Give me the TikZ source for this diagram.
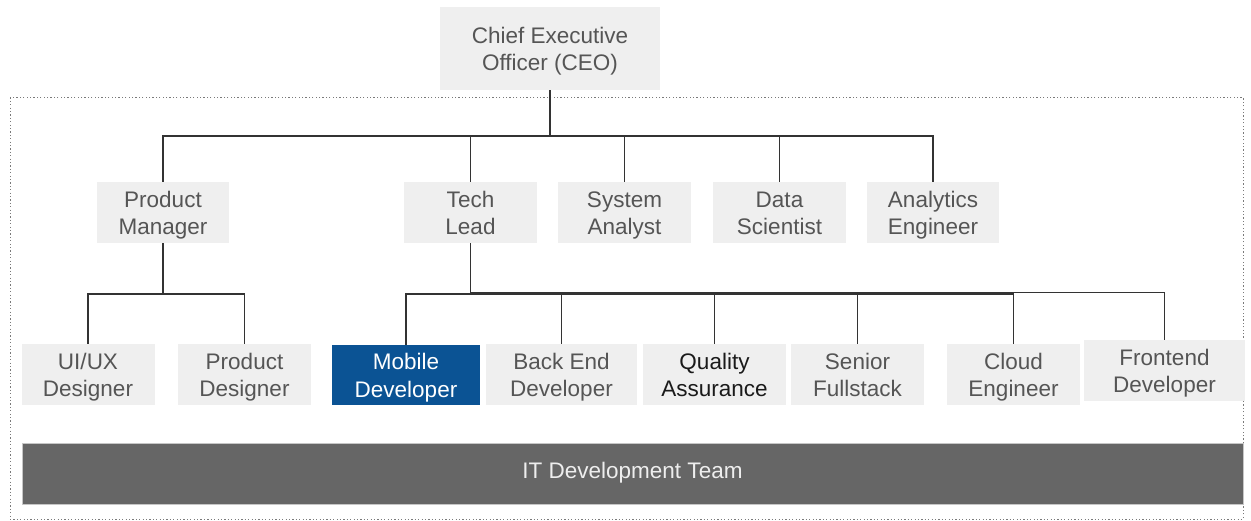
\documentclass[tikz,border=0pt]{standalone}
\usepackage{fontspec}
\setmainfont{Liberation Sans}
\definecolor{boxfill}{HTML}{EFEFEF}
\definecolor{boxtext}{HTML}{555555}
\definecolor{qatext}{HTML}{1A1A1A}
\definecolor{mobfill}{HTML}{0B5394}
\definecolor{barfill}{HTML}{666666}
\definecolor{bartext}{HTML}{EEEEEE}
\definecolor{linecol}{HTML}{333333}
\definecolor{dashcol}{HTML}{7A7A7A}
\newcommand{\rs}{\rule[-5pt]{0pt}{27pt}}
\begin{document}
\begin{tikzpicture}[x=1pt,y=-1pt,
  role/.style={fill=boxfill, draw=none, inner sep=0pt, align=center,
    text=boxtext, font=\fontsize{22.5}{27.5}\selectfont},
  conn/.style={draw=linecol, line width=1.3pt},
  frame/.style={draw=dashcol, line width=1pt, dash pattern=on 1.2pt off 2.2pt}]
\useasboundingbox (0,0) rectangle (1251,521);
\fill[white] (0,0) rectangle (1251,521);
% dashed team frame
\draw[frame] (10,97.5) rectangle (1243,519);
% top
\node[role, minimum width=220pt, minimum height=83pt] (ceo) at (550,48.5) {\rs Chief Executive\\\rs Officer (CEO)};
% second row
\node[role, minimum width=132pt, minimum height=61pt] (pm) at (163,212.5) {\rs Product\\\rs Manager};
\node[role, minimum width=133pt, minimum height=61pt] (tl) at (470.5,212.5) {\rs Tech\\\rs Lead};
\node[role, minimum width=133pt, minimum height=61pt] (sa) at (624.5,212.5) {\rs System\\\rs Analyst};
\node[role, minimum width=133pt, minimum height=61pt] (ds) at (779.5,212.5) {\rs Data\\\rs Scientist};
\node[role, minimum width=132pt, minimum height=61pt] (ae) at (933,212.5) {\rs Analytics\\\rs Engineer};
% third row
\node[role, minimum width=133pt, minimum height=61pt] (ux) at (88,374.5) {\rs UI/UX\\\rs Designer};
\node[role, minimum width=133pt, minimum height=61pt] (pd) at (244.5,374.5) {\rs Product\\\rs Designer};
\node[role, fill=mobfill, text=white, minimum width=148pt, minimum height=60pt] (mob) at (406,375) {\rs Mobile\\\rs Developer};
\node[role, minimum width=151pt, minimum height=61pt] (be) at (561.5,374.5) {\rs Back End\\\rs Developer};
\node[role, text=qatext, minimum width=143pt, minimum height=61pt] (qa) at (714.5,374.5) {\rs Quality\\\rs Assurance};
\node[role, minimum width=133pt, minimum height=61pt] (sf) at (857.5,374.5) {\rs Senior\\\rs Fullstack};
\node[role, minimum width=133pt, minimum height=61pt] (ce) at (1013.5,374.5) {\rs Cloud\\\rs Engineer};
\node[role, minimum width=161pt, minimum height=61pt] (fe) at (1164.5,370.5) {\rs Frontend\\\rs Developer};
% team bar
\node[role, fill=barfill, draw=gray!45, line width=0.8pt, text=bartext, minimum width=1221pt, minimum height=61pt, text height=16pt, text depth=6pt] (bar) at (632.5,473.5) {IT Development Team};
% connectors: CEO level
\coordinate (b1) at (550,136);
\draw[conn] (ceo.south) -- (b1);
\draw[conn] (pm.north) |- (b1) -| (ae.north);
\draw[conn] (tl.north) -- (tl.north |- b1);
\draw[conn] (sa.north) -- (sa.north |- b1);
\draw[conn] (ds.north) -- (ds.north |- b1);
% Product Manager level
\coordinate (b2) at (163,294);
\draw[conn] (pm.south) -- (b2);
\draw[conn] (ux.north) |- (b2) -| (pd.north);
% Tech Lead level
\coordinate (b3) at (470.5,294);
\coordinate (b3b) at (470.5,292.5);
\draw[conn] (tl.south) -- (b3);
\draw[conn] (mob.north) |- (b3) -| (ce.north);
\draw[conn] (b3b) -| (fe.north);
\draw[conn] (be.north) -- (be.north |- b3);
\draw[conn] (qa.north) -- (qa.north |- b3);
\draw[conn] (sf.north) -- (sf.north |- b3);
\end{tikzpicture}
\end{document}
